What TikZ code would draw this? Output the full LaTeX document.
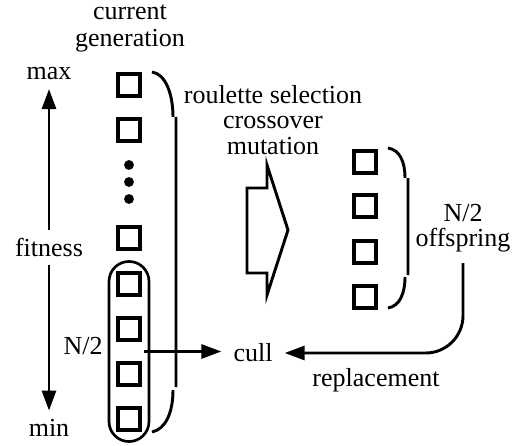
\documentclass[tikz,border=0pt]{standalone}
\usepackage{fontspec}
\setmainfont{Liberation Serif}
\newfontfamily\lblserif{Liberation Serif}
\usetikzlibrary{arrows.meta,fit}

\tikzset{every picture/.style={line width=2.2pt}}
\tikzset{
  >={Triangle[length=15pt,width=10.5pt]},
  indiv/.style={draw, rectangle, minimum size=16.5pt, inner sep=0pt, line width=2.3pt},
  grp/.style={draw, rectangle, rounded corners=15pt, line width=2pt, inner xsep=5.6pt, inner ysep=7.5pt},
  lbl/.style={font=\lblserif\fontsize{19.5}{20}\selectfont, align=center, inner sep=0pt},
}

\begin{document}
\begin{tikzpicture}[x=0.75pt,y=0.75pt,yscale=-1,xscale=1,line width=2.2pt]
\useasboundingbox (0,0) rectangle (523,445);

% Text Node
\node [lbl, font=\lblserif\fontsize{19.5}{20.25}\selectfont] (curgen) at (130,28) {current\\generation};
% Text Node
\node [lbl, inner sep=5.5pt] (max) at (49,74) {max};
% Text Node
\node [lbl, inner sep=5.5pt] (min) at (49,428) {min};

%Straight Lines: fitness axis
\draw [<->] (max) -- (min);
% Text Node
\node [lbl, fill=white, inner sep=6pt] (fit) at (49,247.5) {fitness};

%Shape: Squares, current generation
\node [indiv] (top1) at (129,85) {};
\node [indiv] (top2) at (129,130) {};
\foreach \y in {165,182,199} \fill (129,\y) circle (3.7pt);
\node [indiv] (mid) at (129,238) {};
\foreach \y [count=\i] in {284,329,374,419}
  \node [indiv] (low\i) at (129,\y) {};
%Shape: Rounded Rect round the worse half
\node [grp, fit=(low1)(low4)] (half) {};
% Text Node
\node [lbl] (nhalf) at (83,346) {N/2};

%Shape: Bracket, whole generation
\draw (152,72) .. controls (166,74) and (173,95) .. (173,117)
      (176,117) -- (176,387)
      (173,390) .. controls (173,412) and (166,429) .. (152,432);

% Text Node
\node [lbl, font=\lblserif\fontsize{19.5}{19}\selectfont] (ops) at (273,120) {roulette selection\\crossover\\mutation};

%Shape: Block Arrow
\draw (247,188) -- (267,188) -- (267,165) -- (288,230) -- (267,295) -- (267,273) -- (247,273) -- cycle;

%Shape: Squares, offspring
\foreach \y [count=\i] in {162,206,252,297}
  \node [indiv] (off\i) at (365,\y) {};

%Shape: Bracket, offspring
\draw (388,148) .. controls (400,150) and (405,162) .. (405,178)
      (408,178) -- (408,275)
      (405,277) .. controls (405,293) and (400,306) .. (388,308);

% Text Node
\node [lbl, font=\lblserif\fontsize{19.5}{18.5}\selectfont, inner sep=7.5pt] (offs) at (463,228) {N/2\\offspring};
% Text Node
\node [lbl, inner sep=8pt] (cull) at (253,353) {cull};
% Text Node
\node [lbl] (repl) at (376,380) {replacement};

%Straight Lines
\draw [->] ([xshift=-4.5pt]half.east) -- (half.east -| cull.west);
\draw [->, rounded corners=28pt] (offs.south) |- (cull);

\end{tikzpicture}
\end{document}
